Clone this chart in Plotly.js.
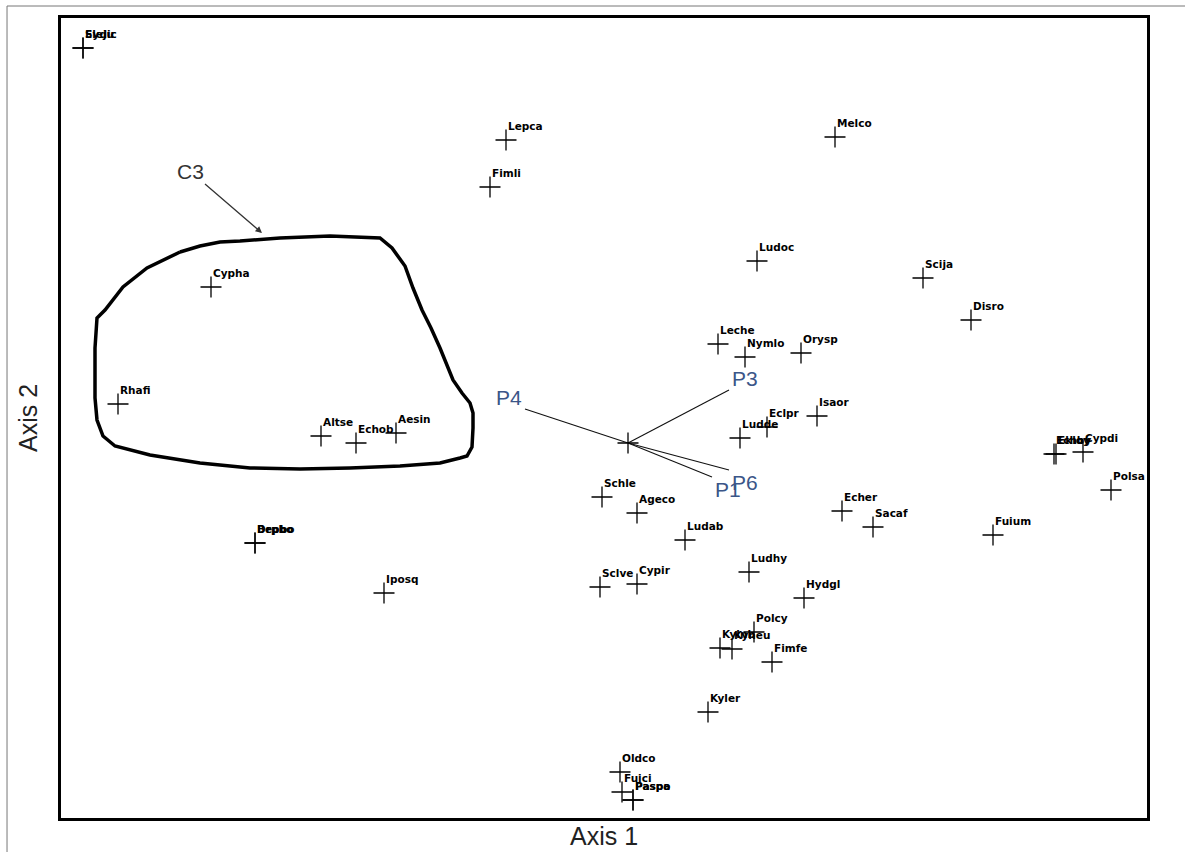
<!DOCTYPE html>
<html>
<head>
<meta charset="utf-8">
<script src="https://cdn.plot.ly/plotly-3.0.1.min.js"></script>
<style>html,body{margin:0;padding:0;background:#fff;}#chart{width:1185px;height:852px;}</style>
</head>
<body>
<div id="chart"></div>
<script>
// Species scores (Axis 1, Axis 2)
const speciesNames = ["Eleju","Sydic","Lepca","Fimli","Melco","Cypha","Ludoc","Scija","Disro","Leche","Nymlo","Orysp","Rhafi","Altse","Echob","Aesin","Isaor","Eclpr","Ludde","Echby","Ekloy","Cypdi","Polsa","Schle","Ageco","Ludab","Echer","Sacaf","Fuium","Ludhy","Sclve","Cypir","Hydgl","Polcy","Kylnb","Kyneu","Fimfe","Kyler","Oldco","Fuici","Paspa","Paspo","Bepbo","Drpbo","Iposq"];
const speciesAx1 = [22,22,445,429,774,150,696,862,910,657,684,740,57,260,295,335,756,706,679,993,995,1022,1050,541,576,624,781,812,932,688,539,576,743,693,659,671,711,647,559,561,572,572,194,194,323];
const speciesAx2 = [770,770,678,631,681,531,557,540,498,474,461,465,414,382,375,385,402,391,380,364,364,366,328,321,305,278,307,291,283,246,231,234,220,186,170,169,156,106,46,26,18,18,275,275,225];

// Environmental vectors (origin and tips)
const vecOriginAx1 = 567, vecOriginAx2 = 375;
const vecNames = ["P3","P4","P6","P1"];
const vecAx1 = [668,464,668,651];
const vecAx2 = [428,409,348,341];

// Group hull C3
const hullAx1 = [119,139,159,179,219,269,319,331,344,352,361,370,379,392,401,409,412,412,411,406,399,379,339,289,239,189,139,89,54,42,36,34,34,34,36,44,62,86,119];
const hullAx2 = [566,572,576,577,580,582,580,570,552,530,508,490,470,438,425,415,405,390,371,362,360,355,352,350,349,350,355,363,372,382,398,420,448,470,500,508,531,550,566];
const groupLabel = "C3";
const groupLabelAx1 = 129, groupLabelAx2 = 647;
const groupArrowAx1 = 201, groupArrowAx2 = 585;

const traces = [];
traces.push({
  x: hullAx1, y: hullAx2, mode: "lines", type: "scatter",
  line: {color: "#000", width: 3.5, shape: "linear"},
  hoverinfo: "skip", showlegend: false
});
for (let i = 0; i < vecNames.length; i++) {
  traces.push({
    x: [vecOriginAx1, vecAx1[i]], y: [vecOriginAx2, vecAx2[i]],
    mode: "lines", type: "scatter",
    line: {color: "#111", width: 1.1}, hoverinfo: "skip", showlegend: false
  });
}
traces.push({
  x: speciesAx1.concat([vecOriginAx1]), y: speciesAx2.concat([vecOriginAx2]),
  mode: "markers", type: "scatter",
  marker: {symbol: "cross-thin-open", size: 15, color: "#000", line: {color: "#000", width: 1.3}},
  hoverinfo: "skip", showlegend: false
});

const annotations = [];
for (let i = 0; i < speciesNames.length; i++) {
  annotations.push({
    x: speciesAx1[i], y: speciesAx2[i], xref: "x", yref: "y",
    text: speciesNames[i], showarrow: false,
    xanchor: "left", yanchor: "middle", xshift: 0, yshift: 14,
    font: {family: "DejaVu Sans", size: 10.5, color: "#000", weight: "bold"}
  });
}
for (let i = 0; i < vecNames.length; i++) {
  const dx = vecAx1[i] - vecOriginAx1, dy = vecAx2[i] - vecOriginAx2;
  annotations.push({
    x: vecAx1[i], y: vecAx2[i], xref: "x", yref: "y", text: vecNames[i], showarrow: false,
    xanchor: "center", yanchor: "middle",
    xshift: 16 * Math.sign(dx), yshift: 12 * Math.sign(dy),
    font: {family: "Liberation Sans", size: 21, color: "#3b5688"}
  });
}
annotations.push({
  x: groupArrowAx1, y: groupArrowAx2, xref: "x", yref: "y",
  ax: groupLabelAx1, ay: groupLabelAx2, axref: "x", ayref: "y",
  text: groupLabel, showarrow: true, arrowhead: 2, arrowsize: 1, arrowwidth: 1.3,
  arrowcolor: "#333", standoff: 0,
  font: {family: "Liberation Sans", size: 21, color: "#333"}
});

const layout = {
  width: 1185, height: 852,
  margin: {l: 61, r: 38, t: 18, b: 34},
  paper_bgcolor: "#fff", plot_bgcolor: "#fff",
  xaxis: {range: [0, 1086], showgrid: false, zeroline: false, showticklabels: false, ticks: "",
    showline: true, mirror: true, linecolor: "#000", linewidth: 3,
    title: {text: "Axis 1", font: {family: "Liberation Sans", size: 25, color: "#222"}, standoff: 8}},
  yaxis: {range: [0, 800], showgrid: false, zeroline: false, showticklabels: false, ticks: "",
    showline: true, mirror: true, linecolor: "#000", linewidth: 3,
    title: {text: "Axis 2", font: {family: "Liberation Sans", size: 25, color: "#222"}, standoff: 14}},
  annotations: annotations,
  shapes: [{type: "rect", xref: "paper", yref: "paper",
    x0: -0.0497, x1: 1.1, y0: -0.1, y1: 1.015, line: {color: "#777", width: 1}}]
};

Plotly.newPlot("chart", traces, layout, {displayModeBar: false, staticPlot: true});
</script>
</body>
</html>
